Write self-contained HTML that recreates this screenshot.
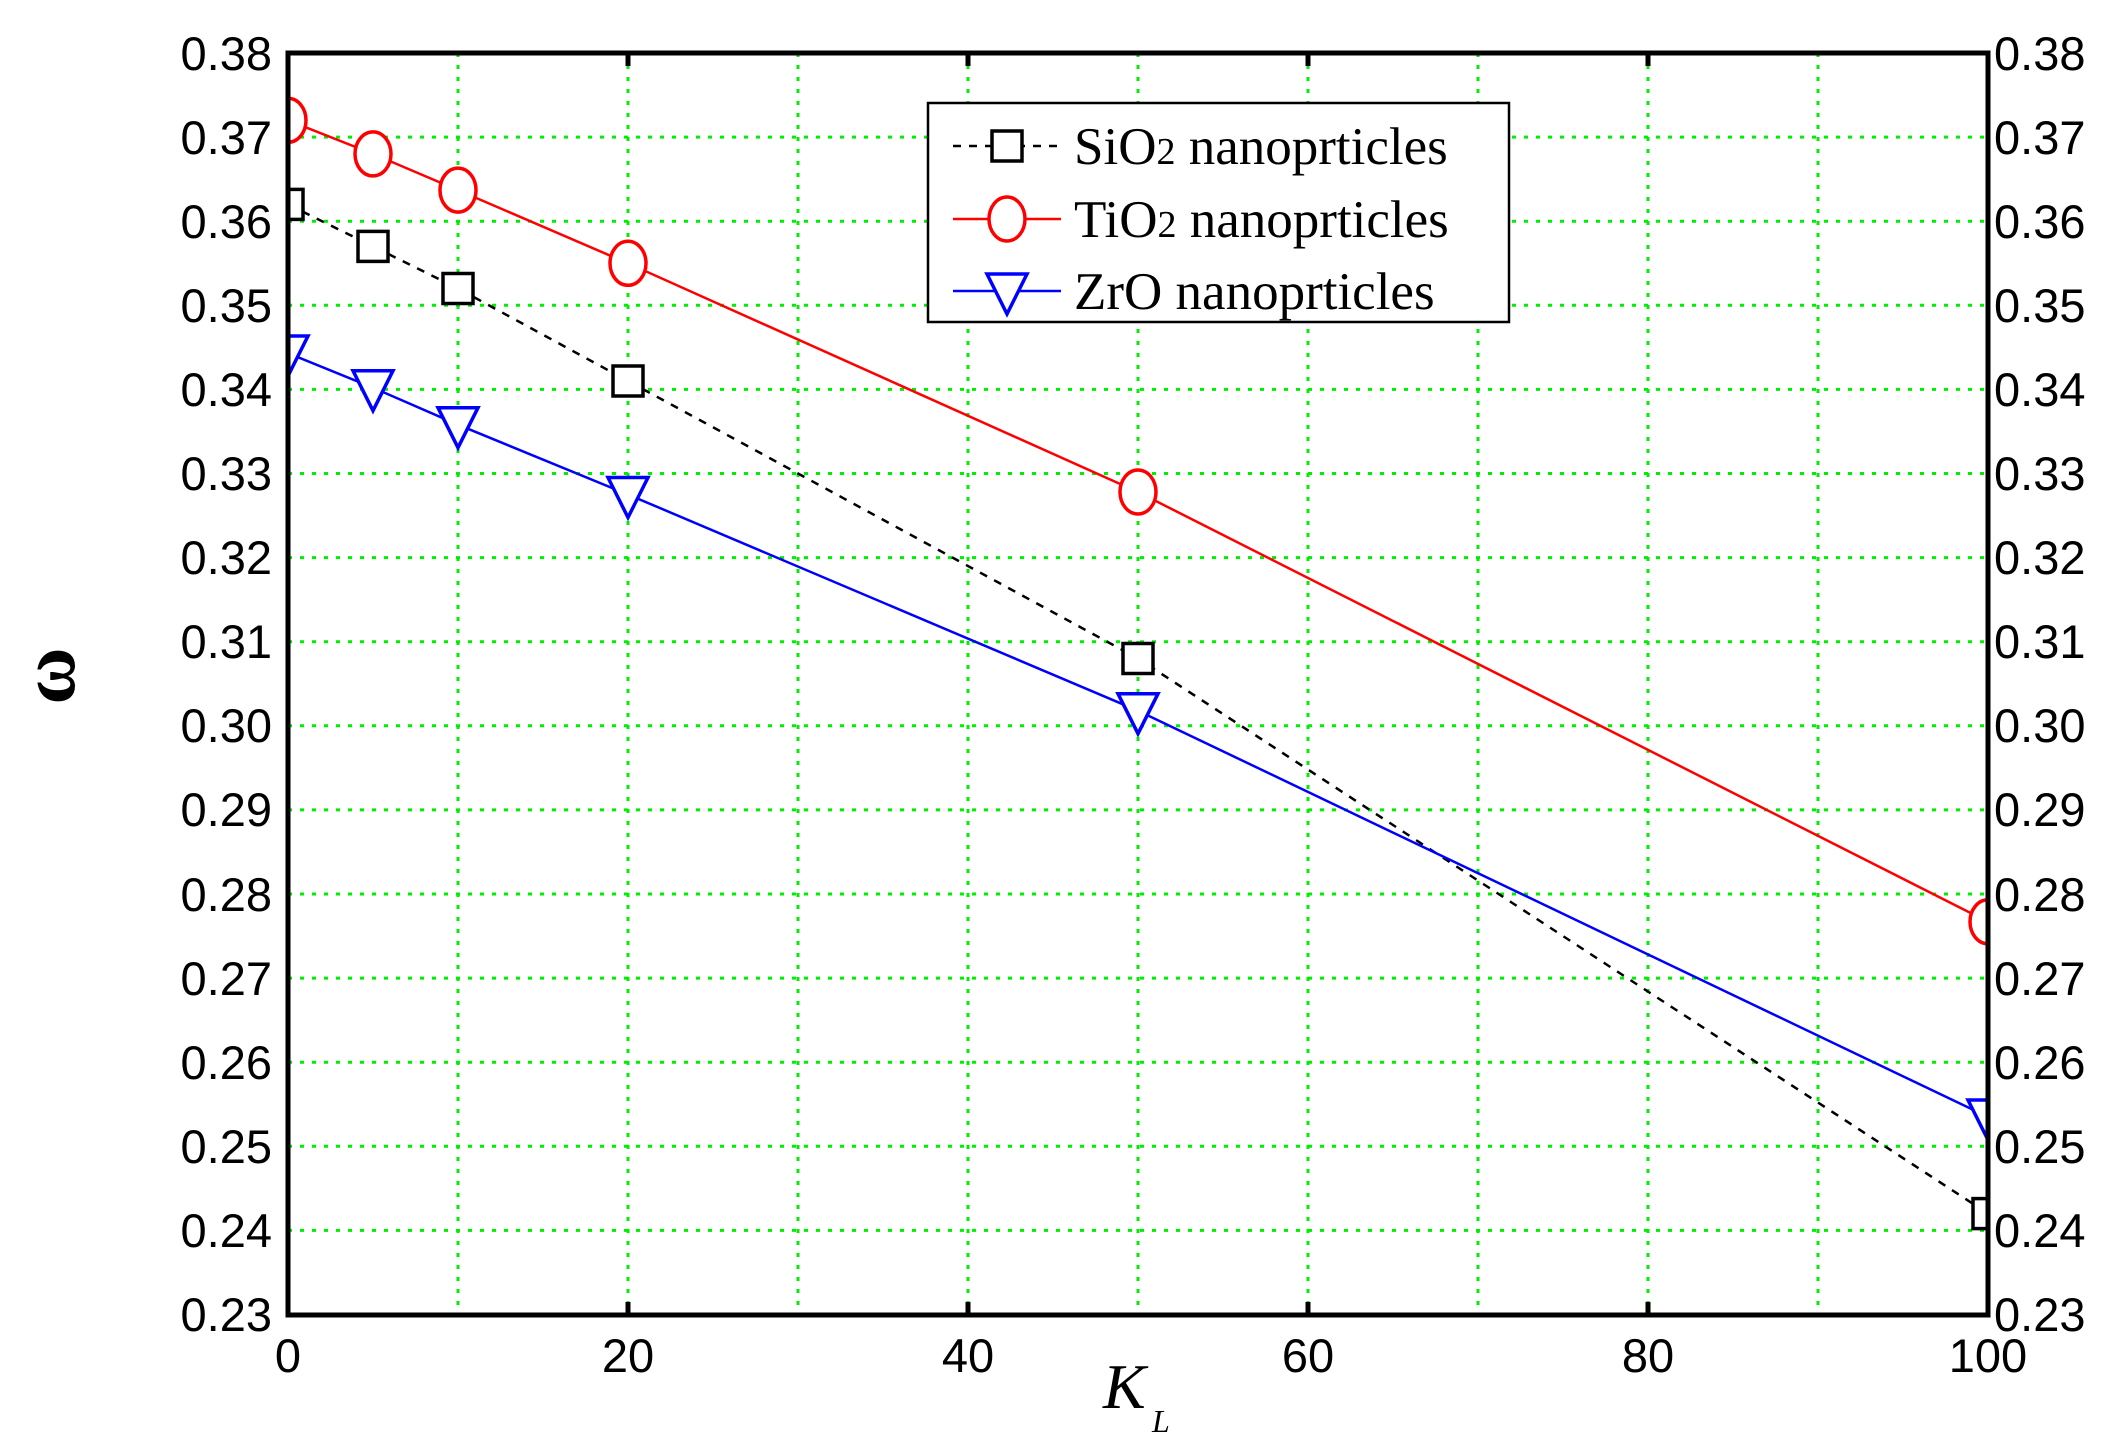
<!DOCTYPE html>
<html><head><meta charset="utf-8"><style>html,body{margin:0;padding:0;background:#fff}svg{display:block}</style></head>
<body>
<svg width="2108" height="1447" viewBox="0 0 2108 1447" xmlns="http://www.w3.org/2000/svg">
<defs><clipPath id="c"><rect x="288" y="53" width="1700" height="1262"/></clipPath></defs>
<rect width="2108" height="1447" fill="#fff"/>
<g stroke="#00ee00" stroke-width="3" stroke-dasharray="4,8">
<line x1="458" y1="53" x2="458" y2="1315"/><line x1="628" y1="53" x2="628" y2="1315"/><line x1="798" y1="53" x2="798" y2="1315"/><line x1="968" y1="53" x2="968" y2="1315"/><line x1="1138" y1="53" x2="1138" y2="1315"/><line x1="1308" y1="53" x2="1308" y2="1315"/><line x1="1478" y1="53" x2="1478" y2="1315"/><line x1="1648" y1="53" x2="1648" y2="1315"/><line x1="1818" y1="53" x2="1818" y2="1315"/>
<line x1="288" y1="137.1" x2="1988" y2="137.1"/><line x1="288" y1="221.2" x2="1988" y2="221.2"/><line x1="288" y1="305.3" x2="1988" y2="305.3"/><line x1="288" y1="389.4" x2="1988" y2="389.4"/><line x1="288" y1="473.5" x2="1988" y2="473.5"/><line x1="288" y1="557.6" x2="1988" y2="557.6"/><line x1="288" y1="641.7" x2="1988" y2="641.7"/><line x1="288" y1="725.8" x2="1988" y2="725.8"/><line x1="288" y1="809.9" x2="1988" y2="809.9"/><line x1="288" y1="894" x2="1988" y2="894"/><line x1="288" y1="978.1" x2="1988" y2="978.1"/><line x1="288" y1="1062.2" x2="1988" y2="1062.2"/><line x1="288" y1="1146.3" x2="1988" y2="1146.3"/><line x1="288" y1="1230.4" x2="1988" y2="1230.4"/>
</g>
<g clip-path="url(#c)" fill="none" stroke-width="2.5">
<polyline stroke="#000" stroke-dasharray="8,8" points="288,204.4 373,246.4 458,288.5 628,381 1138,658.5 1988,1213.6"/>
<polyline stroke="#f00" points="288,120.3 373,153.9 458,190.1 628,263.3 1138,492 1988,921.8"/>
<polyline stroke="#00f" points="288,353.2 373,387.7 458,424.7 628,494.5 1138,710.7 1988,1116.9"/>
<g stroke="#000" stroke-width="3.5" fill="#fff">
<rect x="273" y="189.4" width="30" height="30"/><rect x="358" y="231.4" width="30" height="30"/><rect x="443" y="273.5" width="30" height="30"/><rect x="613" y="366" width="30" height="30"/><rect x="1123" y="643.5" width="30" height="30"/><rect x="1973" y="1198.6" width="30" height="30"/>
</g>
<g stroke="#f00" stroke-width="3.5" fill="#fff">
<ellipse cx="288" cy="120.3" rx="18" ry="22"/><ellipse cx="373" cy="153.9" rx="18" ry="22"/><ellipse cx="458" cy="190.1" rx="18" ry="22"/><ellipse cx="628" cy="263.3" rx="18" ry="22"/><ellipse cx="1138" cy="492" rx="18" ry="22"/><ellipse cx="1988" cy="921.8" rx="18" ry="22"/>
</g>
<g stroke="#00f" stroke-width="3.5" fill="#fff">
<polygon points="268,336 308,336 288,376"/><polygon points="353,370.7 393,370.7 373,410.7"/><polygon points="438,407.7 478,407.7 458,447.7"/><polygon points="608,477.5 648,477.5 628,517.5"/><polygon points="1118,693.7 1158,693.7 1138,733.7"/><polygon points="1968,1100 2008,1100 1988,1140"/>
</g>
</g>
<rect x="288" y="53" width="1700" height="1262" fill="none" stroke="#000" stroke-width="5"/>
<g stroke="#000" stroke-width="5">
<line x1="628" y1="53" x2="628" y2="66"/><line x1="968" y1="53" x2="968" y2="66"/><line x1="1308" y1="53" x2="1308" y2="66"/><line x1="1648" y1="53" x2="1648" y2="66"/>
<line x1="628" y1="1315" x2="628" y2="1302"/><line x1="968" y1="1315" x2="968" y2="1302"/><line x1="1308" y1="1315" x2="1308" y2="1302"/><line x1="1648" y1="1315" x2="1648" y2="1302"/>
</g>
<g font-family="Liberation Sans, sans-serif" font-size="47" fill="#000">
<g text-anchor="end">
<text x="272" y="70">0.38</text><text x="272" y="154">0.37</text><text x="272" y="238">0.36</text><text x="272" y="322">0.35</text><text x="272" y="406">0.34</text><text x="272" y="490">0.33</text><text x="272" y="574">0.32</text><text x="272" y="658">0.31</text><text x="272" y="742">0.30</text><text x="272" y="826">0.29</text><text x="272" y="911">0.28</text><text x="272" y="995">0.27</text><text x="272" y="1079">0.26</text><text x="272" y="1163">0.25</text><text x="272" y="1247">0.24</text><text x="272" y="1331">0.23</text>
</g>
<g>
<text x="1994" y="70">0.38</text><text x="1994" y="154">0.37</text><text x="1994" y="238">0.36</text><text x="1994" y="322">0.35</text><text x="1994" y="406">0.34</text><text x="1994" y="490">0.33</text><text x="1994" y="574">0.32</text><text x="1994" y="658">0.31</text><text x="1994" y="742">0.30</text><text x="1994" y="826">0.29</text><text x="1994" y="911">0.28</text><text x="1994" y="995">0.27</text><text x="1994" y="1079">0.26</text><text x="1994" y="1163">0.25</text><text x="1994" y="1247">0.24</text><text x="1994" y="1331">0.23</text>
</g>
<g text-anchor="middle">
<text x="288" y="1372">0</text><text x="628" y="1372">20</text><text x="968" y="1372">40</text><text x="1308" y="1372">60</text><text x="1648" y="1372">80</text><text x="1988" y="1372">100</text>
</g>
</g>
<text x="0" y="0" transform="translate(74,676) rotate(-90)" text-anchor="middle" font-family="Liberation Serif, serif" font-size="78" font-weight="bold">ω</text>
<text x="1103" y="1408" font-family="Liberation Serif, serif" font-style="italic" font-size="64">K</text>
<text x="1152" y="1432" font-family="Liberation Serif, serif" font-style="italic" font-size="32">L</text>
<rect x="928" y="103" width="581" height="219" fill="#fff" stroke="#000" stroke-width="2.5"/>
<g stroke-width="2.5" fill="none">
<line x1="953" y1="146" x2="1061" y2="146" stroke="#000" stroke-dasharray="8,8"/>
<rect x="992" y="131" width="30" height="30" stroke="#000" stroke-width="3.5" fill="#fff"/>
<line x1="953" y1="219" x2="1061" y2="219" stroke="#f00"/>
<ellipse cx="1007" cy="219" rx="18" ry="22" stroke="#f00" stroke-width="3.5" fill="#fff"/>
<line x1="953" y1="291" x2="1061" y2="291" stroke="#00f"/>
<polygon points="987,274 1027,274 1007,314" stroke="#00f" stroke-width="3.5" fill="#fff"/>
</g>
<g font-family="Liberation Serif, serif" font-size="53" fill="#000">
<text x="1074" y="164">SiO<tspan font-size="38">2</tspan> nanoprticles</text>
<text x="1074" y="237">TiO<tspan font-size="38">2</tspan> nanoprticles</text>
<text x="1074" y="309">ZrO nanoprticles</text>
</g>
</svg>
</body></html>
